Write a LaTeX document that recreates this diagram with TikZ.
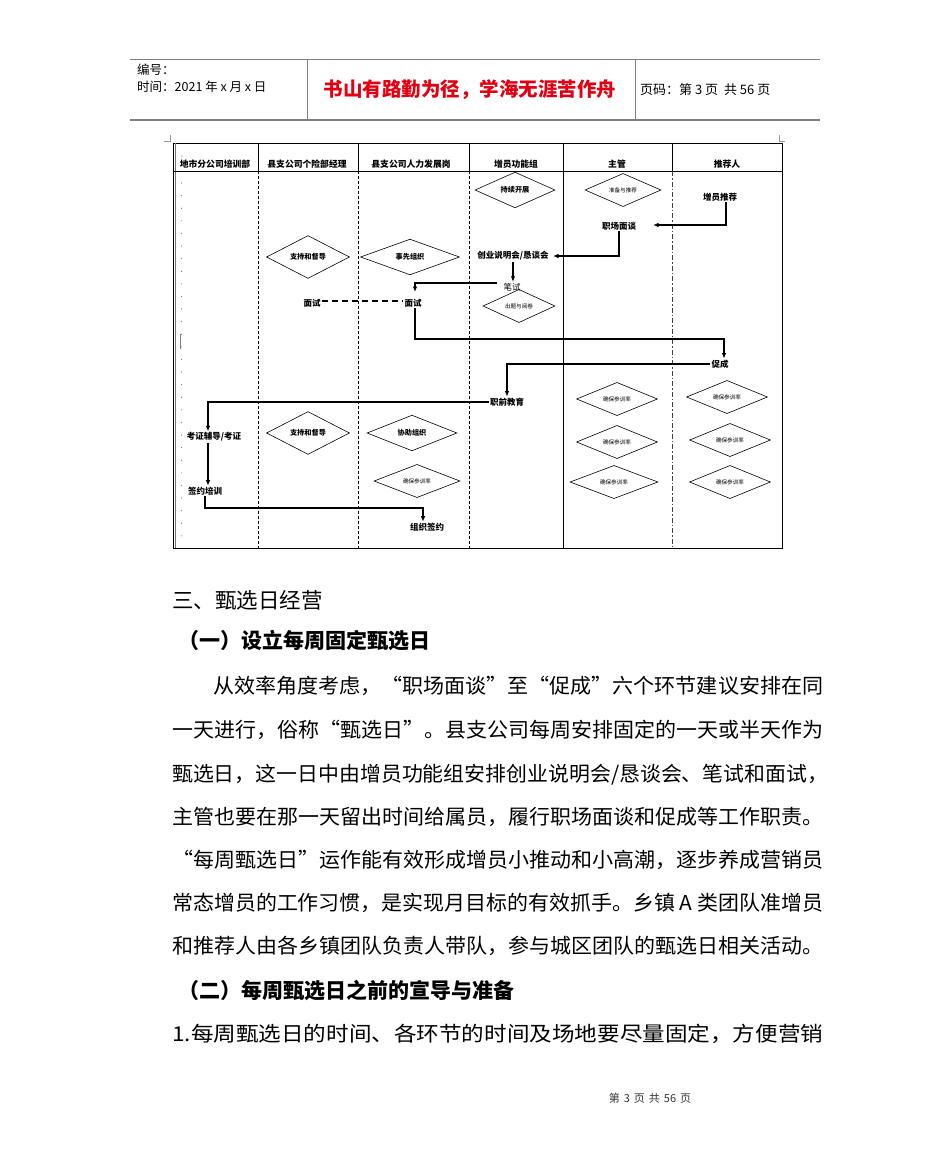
\documentclass[tikz,border=0pt]{standalone}
\usepackage{fontspec}
\usepackage{graphicx}
\usetikzlibrary{shapes.geometric,arrows.meta}
\setmainfont{Noto Sans CJK SC}
\definecolor{motto}{RGB}{228,0,18}
\definecolor{rulegray}{RGB}{128,128,128}
\newcommand{\gp}{\hspace{4pt}}
\begin{document}
\begin{tikzpicture}[x=1pt,y=-1pt,
  grid/.style={line width=0.9pt,black},
  lane/.style={line width=0.8pt,black,dash pattern=on 3pt off 2pt},
  lanedd/.style={line width=0.8pt,black!75,dash pattern=on 5pt off 2pt on 1.5pt off 2pt},
  hdr/.style={font=\fontsize{8.8}{9}\selectfont\bfseries,inner sep=0pt},
  lbl/.style={font=\fontsize{8.5}{9}\selectfont\bfseries,inner sep=1pt},
  lblr/.style={font=\fontsize{8.5}{9}\selectfont,inner sep=1pt},
  dmd/.style={diamond,draw,line width=0.6pt,inner sep=0pt,font=\fontsize{7.2}{8}\selectfont\bfseries},
  dmds/.style={dmd,font=\fontsize{5.6}{6}\selectfont\mdseries},
  arr/.style={line width=1.4pt,-{Latex[length=5.5pt,width=4.5pt]}},
  body/.style={anchor=base west,inner sep=0pt,font=\fontsize{20.5}{22}\selectfont},
  bodyb/.style={body,font=\fontsize{21}{22}\selectfont\bfseries},
  hd/.style={anchor=west,inner sep=0pt,font=\fontsize{12.5}{13}\selectfont}
]
\fill[white] (0,0) rectangle (950,1176);
\useasboundingbox (0,0) rectangle (950,1176);

% ---------- page header ----------
\draw[rulegray,line width=1.6pt] (130,59.5) -- (820,59.5);
\draw[rulegray,line width=1.6pt] (130,120) -- (820,120);
\draw[rulegray,line width=0.7pt] (307,59.5) -- (307,120);
\draw[rulegray,line width=0.7pt] (635,59.5) -- (635,120);
\node[hd] (bh) at (137,70) {编号：};
\node[hd] (sj) at (137,87) {时间：2021 年 x 月 x 日};
\node[inner sep=0pt,font=\fontsize{19.5}{20}\selectfont\bfseries,text=motto] (motto) at (470,90) {书山有路勤为径，学海无涯苦作舟};
\node[hd,font=\fontsize{13}{14}\selectfont] (ym) at (640,90) {页码：第 3 页\ \ 共 56 页};

% ---------- swimlane frame ----------
\draw[black!40,line width=0.6pt] (164,141) -- (170,141) -- (170,135);
\draw[black!40,line width=0.6pt] (779,135) -- (779,141) -- (785,141);
\draw[grid] (173,143) rectangle (782,548);
\draw[black!55,line width=0.8pt] (175.5,143) -- (175.5,548);
\draw[grid] (173,171) -- (782,171);
\foreach \xx in {258,358,469,672} \draw[grid] (\xx,143) -- (\xx,171);
\foreach \xx in {258,358,469} \draw[lane] (\xx,171) -- (\xx,548);
\draw[grid] (563,143) -- (563,548);
\draw[lanedd] (672,171) -- (672,548);

\node[hdr] (h1) at (215,164) {地市分公司培训部};
\node[hdr] (h2) at (307,164) {县支公司个险部经理};
\node[hdr] (h3) at (411,164) {县支公司人力发展岗};
\node[hdr] (h4) at (516,164) {增员功能组};
\node[hdr] (h5) at (617,164) {主管};
\node[hdr] (h6) at (727,164) {推荐人};

% paragraph marks in first lane
\foreach \yy in {183,195.6,...,546} \fill[black!55] (181.5,\yy) circle (0.55pt);
\fill[black!55] (182,156) circle (0.55pt);
\draw[black!50,line width=1pt] (180.5,334) -- (180.5,349);

% ---------- diamonds ----------
\node[dmd,minimum width=80pt,minimum height=27pt] (d1) at (515,190) {持续开展};
\node[dmds,minimum width=76pt,minimum height=28pt] (d2) at (623,190) {准备与推荐};
\node[dmd,minimum width=83pt,minimum height=26pt] (d3) at (308,257) {支持和督导};
\node[dmd,minimum width=99pt,minimum height=27pt] (d4) at (410,257) {事先组织};
\node[dmds,minimum width=72pt,minimum height=26pt] (d5) at (519,306) {出题与阅卷};
\node[dmd,minimum width=83pt,minimum height=24pt] (d6) at (308,433) {支持和督导};
\node[dmd,minimum width=90pt,minimum height=24pt] (d7) at (412,433) {协助组织};
\node[dmds,minimum width=86pt,minimum height=24pt] (d8) at (417,481) {确保参训率};
\node[dmds,minimum width=81pt,minimum height=27pt] (d9) at (617,399) {确保参训率};
\node[dmds,minimum width=81pt,minimum height=29pt] (d10) at (617,442) {确保参训率};
\node[dmds,minimum width=88pt,minimum height=32pt] (d11) at (614,482) {确保参训率};
\node[dmds,minimum width=81pt,minimum height=29pt] (d12) at (727,397) {确保参训率};
\node[dmds,minimum width=81pt,minimum height=29pt] (d13) at (730,440) {确保参训率};
\node[dmds,minimum width=81pt,minimum height=32pt] (d14) at (730,482) {确保参训率};

% ---------- step labels ----------
\node[lbl] (tj) at (720,197) {增员推荐};
\node[lbl] (zc) at (619,226) {职场面谈};
\node[lbl] (cy) at (513,256) {创业说明会/恳谈会};
\node[lblr] (bs) at (512,287) {笔试};
\node[lbl] (msa) at (312,303) {面试};
\node[lbl] (msb) at (413,303) {面试};
\node[lbl] (cc) at (720,364) {促成};
\node[lbl] (zq) at (507,402) {职前教育};
\node[lbl] (kz) at (214,437) {考证辅导/考证};
\node[lbl] (qy) at (205,491) {签约培训};
\node[lbl] (zz) at (427,527) {组织签约};

% ---------- connectors ----------
\coordinate (t1) at (653,225);
\draw[arr] (tj.south -| 726,0) |- (t1);
\coordinate (t2) at (553,256);
\draw[arr] (zc.south) |- (t2);
\draw[arr] (cy.south -| 513,0) -- (bs.north -| 513,0);
\coordinate (b1) at (497,283);
\coordinate (b2) at (415,292);
\draw[arr] (b1) -| (b2);
\draw[line width=1.2pt,dash pattern=on 6pt off 4pt] (msa.east |- 0,301) -- (msb.west |- 0,301);
\coordinate (m1) at (724,339);
\draw[arr] (msb.south -| 415,0) |- (m1) -- (cc.north -| 724,0);
\draw[arr] (cc.west) -| (zq.north);
\draw[arr] (zq.west) -| (kz.north -| 208,0);
\draw[arr] (kz.south -| 208,0) -- (qy.north -| 208,0);
\coordinate (q1) at (423,508);
\draw[arr] (qy.south) |- (q1) -- (zz.north -| 423,0);

% ---------- body text ----------
\node[body,font=\fontsize{21.5}{22}\selectfont] (s3) at (172,608) {三、甄选日经营};
\node[bodyb] (s31) at (178,648) {（一）设立每周固定甄选日};
\node[body] (l1) at (213,693) {\resizebox{610pt}{\height}{从效率角度考虑，“职场面谈”至“促成”六个环节建议安排在同}};
\node[body] (l2) at (172,737) {\resizebox{651pt}{\height}{一天进行，俗称“甄选日”。县支公司每周安排固定的一天或半天作为}};
\node[body] (l3) at (172,781) {\resizebox{656pt}{\height}{甄选日，这一日中由增员功能组安排创业说明会/恳谈会、笔试和面试，}};
\node[body] (l4) at (172,824) {\resizebox{651pt}{\height}{主管也要在那一天留出时间给属员，履行职场面谈和促成等工作职责。}};
\node[body] (l5) at (172,867) {\resizebox{651pt}{\height}{“每周甄选日”运作能有效形成增员小推动和小高潮，逐步养成营销员}};
\node[body] (l6) at (172,910) {\resizebox{651pt}{\height}{常态增员的工作习惯，是实现月目标的有效抓手。乡镇 A 类团队准增员}};
\node[body] (l7) at (172,953) {\resizebox{651pt}{\height}{和推荐人由各乡镇团队负责人带队，参与城区团队的甄选日相关活动。}};
\node[bodyb] (s32) at (178,998) {（二）每周甄选日之前的宣导与准备};
\node[body] (l8) at (172,1041) {\resizebox{651pt}{\height}{1.每周甄选日的时间、各环节的时间及场地要尽量固定，方便营销}};

\node[inner sep=0pt,font=\fontsize{11}{12}\selectfont,text=black!80] (ft) at (650,1098) {第\gp 3\gp 页\gp 共\gp 56\gp 页};
\end{tikzpicture}
\end{document}
